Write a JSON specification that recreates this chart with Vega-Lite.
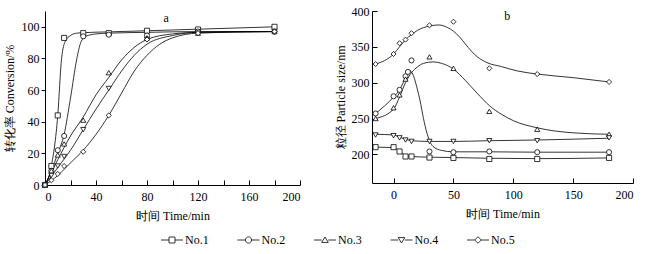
{
  "$schema": "https://vega.github.io/schema/vega-lite/v6.json",
  "padding": {"left": 3, "top": 5, "right": 5, "bottom": 5},
  "background": "white",
  "config": {
    "view": {"stroke": null},
    "font": "Liberation Serif",
    "axis": {
      "grid": false,
      "domainColor": "black",
      "tickColor": "black",
      "labelColor": "black",
      "titleColor": "black",
      "labelFont": "Liberation Serif",
      "labelFontSize": 12,
      "labelOverlap": false,
      "titleFont": "Liberation Serif",
      "titleFontSize": 12,
      "titleFontWeight": "normal",
      "domainWidth": 1,
      "tickWidth": 1
    }
  },
  "datasets": {
    "a_pts": [
      {"series": "No.1", "t": 0, "v": 0}, {"series": "No.1", "t": 5, "v": 12}, {"series": "No.1", "t": 10, "v": 44}, {"series": "No.1", "t": 15, "v": 93}, {"series": "No.1", "t": 30, "v": 96}, {"series": "No.1", "t": 50, "v": 96}, {"series": "No.1", "t": 80, "v": 97.5}, {"series": "No.1", "t": 120, "v": 98.3}, {"series": "No.1", "t": 180, "v": 100},
      {"series": "No.2", "t": 0, "v": 0}, {"series": "No.2", "t": 5, "v": 9}, {"series": "No.2", "t": 10, "v": 22}, {"series": "No.2", "t": 15, "v": 31}, {"series": "No.2", "t": 30, "v": 94}, {"series": "No.2", "t": 50, "v": 95}, {"series": "No.2", "t": 80, "v": 94.5}, {"series": "No.2", "t": 120, "v": 97}, {"series": "No.2", "t": 180, "v": 97},
      {"series": "No.3", "t": 0, "v": 0}, {"series": "No.3", "t": 5, "v": 9}, {"series": "No.3", "t": 10, "v": 19}, {"series": "No.3", "t": 15, "v": 26}, {"series": "No.3", "t": 30, "v": 41}, {"series": "No.3", "t": 50, "v": 71}, {"series": "No.3", "t": 80, "v": 93}, {"series": "No.3", "t": 120, "v": 96}, {"series": "No.3", "t": 180, "v": 97},
      {"series": "No.4", "t": 0, "v": 0}, {"series": "No.4", "t": 5, "v": 6}, {"series": "No.4", "t": 10, "v": 12}, {"series": "No.4", "t": 15, "v": 18}, {"series": "No.4", "t": 30, "v": 35}, {"series": "No.4", "t": 50, "v": 61}, {"series": "No.4", "t": 80, "v": 92}, {"series": "No.4", "t": 120, "v": 96}, {"series": "No.4", "t": 180, "v": 97},
      {"series": "No.5", "t": 0, "v": 0}, {"series": "No.5", "t": 5, "v": 3}, {"series": "No.5", "t": 10, "v": 7}, {"series": "No.5", "t": 15, "v": 12}, {"series": "No.5", "t": 30, "v": 21}, {"series": "No.5", "t": 50, "v": 44}, {"series": "No.5", "t": 80, "v": 92}, {"series": "No.5", "t": 120, "v": 96}, {"series": "No.5", "t": 180, "v": 97}
    ],
    "a_fit": [
      {"series": "No.1", "t": 0, "v": 0}, {"series": "No.1", "t": 5, "v": 12}, {"series": "No.1", "t": 10, "v": 44}, {"series": "No.1", "t": 13, "v": 80}, {"series": "No.1", "t": 16, "v": 91}, {"series": "No.1", "t": 20, "v": 94.5}, {"series": "No.1", "t": 25, "v": 96}, {"series": "No.1", "t": 30, "v": 96.3}, {"series": "No.1", "t": 50, "v": 96.8}, {"series": "No.1", "t": 80, "v": 97.5}, {"series": "No.1", "t": 120, "v": 98.5}, {"series": "No.1", "t": 180, "v": 100},
      {"series": "No.2", "t": 0, "v": 0}, {"series": "No.2", "t": 5, "v": 9}, {"series": "No.2", "t": 10, "v": 20}, {"series": "No.2", "t": 15, "v": 32}, {"series": "No.2", "t": 20, "v": 55}, {"series": "No.2", "t": 25, "v": 80}, {"series": "No.2", "t": 28, "v": 90}, {"series": "No.2", "t": 32, "v": 94}, {"series": "No.2", "t": 40, "v": 95.5}, {"series": "No.2", "t": 50, "v": 96}, {"series": "No.2", "t": 80, "v": 96.5}, {"series": "No.2", "t": 120, "v": 97}, {"series": "No.2", "t": 180, "v": 97},
      {"series": "No.3", "t": 0, "v": 0}, {"series": "No.3", "t": 10, "v": 16}, {"series": "No.3", "t": 20, "v": 31}, {"series": "No.3", "t": 30, "v": 43}, {"series": "No.3", "t": 40, "v": 57}, {"series": "No.3", "t": 50, "v": 68}, {"series": "No.3", "t": 60, "v": 79}, {"series": "No.3", "t": 70, "v": 87}, {"series": "No.3", "t": 80, "v": 92}, {"series": "No.3", "t": 100, "v": 95.5}, {"series": "No.3", "t": 120, "v": 96.5}, {"series": "No.3", "t": 180, "v": 97},
      {"series": "No.4", "t": 0, "v": 0}, {"series": "No.4", "t": 10, "v": 11}, {"series": "No.4", "t": 20, "v": 22}, {"series": "No.4", "t": 30, "v": 35}, {"series": "No.4", "t": 40, "v": 48}, {"series": "No.4", "t": 50, "v": 60}, {"series": "No.4", "t": 60, "v": 72}, {"series": "No.4", "t": 70, "v": 82}, {"series": "No.4", "t": 80, "v": 89}, {"series": "No.4", "t": 100, "v": 94.5}, {"series": "No.4", "t": 120, "v": 96.5}, {"series": "No.4", "t": 180, "v": 97},
      {"series": "No.5", "t": 0, "v": 0}, {"series": "No.5", "t": 10, "v": 6}, {"series": "No.5", "t": 20, "v": 14}, {"series": "No.5", "t": 30, "v": 22}, {"series": "No.5", "t": 40, "v": 32}, {"series": "No.5", "t": 50, "v": 44}, {"series": "No.5", "t": 60, "v": 58}, {"series": "No.5", "t": 70, "v": 72}, {"series": "No.5", "t": 80, "v": 82}, {"series": "No.5", "t": 90, "v": 89}, {"series": "No.5", "t": 100, "v": 93}, {"series": "No.5", "t": 120, "v": 96}, {"series": "No.5", "t": 180, "v": 97}
    ],
    "b_pts": [
      {"series": "No.1", "t": -15, "v": 210}, {"series": "No.1", "t": 0, "v": 210}, {"series": "No.1", "t": 5, "v": 204}, {"series": "No.1", "t": 10, "v": 197}, {"series": "No.1", "t": 15, "v": 197}, {"series": "No.1", "t": 30, "v": 195.5}, {"series": "No.1", "t": 50, "v": 195}, {"series": "No.1", "t": 80, "v": 193.5}, {"series": "No.1", "t": 120, "v": 193.5}, {"series": "No.1", "t": 180, "v": 195},
      {"series": "No.2", "t": -15, "v": 257}, {"series": "No.2", "t": 0, "v": 281}, {"series": "No.2", "t": 5, "v": 290}, {"series": "No.2", "t": 10, "v": 309}, {"series": "No.2", "t": 12, "v": 315}, {"series": "No.2", "t": 15, "v": 331}, {"series": "No.2", "t": 30, "v": 204}, {"series": "No.2", "t": 50, "v": 203}, {"series": "No.2", "t": 80, "v": 204}, {"series": "No.2", "t": 120, "v": 203}, {"series": "No.2", "t": 180, "v": 203},
      {"series": "No.3", "t": -15, "v": 250}, {"series": "No.3", "t": 0, "v": 265}, {"series": "No.3", "t": 5, "v": 283}, {"series": "No.3", "t": 10, "v": 305}, {"series": "No.3", "t": 30, "v": 336}, {"series": "No.3", "t": 50, "v": 320}, {"series": "No.3", "t": 80, "v": 260}, {"series": "No.3", "t": 120, "v": 235}, {"series": "No.3", "t": 180, "v": 228},
      {"series": "No.4", "t": -15, "v": 227}, {"series": "No.4", "t": 0, "v": 226}, {"series": "No.4", "t": 5, "v": 223}, {"series": "No.4", "t": 10, "v": 220}, {"series": "No.4", "t": 15, "v": 218}, {"series": "No.4", "t": 30, "v": 218}, {"series": "No.4", "t": 50, "v": 218}, {"series": "No.4", "t": 80, "v": 219}, {"series": "No.4", "t": 120, "v": 219}, {"series": "No.4", "t": 180, "v": 223},
      {"series": "No.5", "t": -15, "v": 326}, {"series": "No.5", "t": 0, "v": 340}, {"series": "No.5", "t": 5, "v": 355}, {"series": "No.5", "t": 10, "v": 360}, {"series": "No.5", "t": 15, "v": 369}, {"series": "No.5", "t": 30, "v": 380}, {"series": "No.5", "t": 50, "v": 385}, {"series": "No.5", "t": 80, "v": 320}, {"series": "No.5", "t": 120, "v": 312}, {"series": "No.5", "t": 180, "v": 301}
    ],
    "b_fit": [
      {"series": "No.1", "t": -15, "v": 210}, {"series": "No.1", "t": 0, "v": 209.5}, {"series": "No.1", "t": 5, "v": 204}, {"series": "No.1", "t": 10, "v": 198.5}, {"series": "No.1", "t": 15, "v": 197}, {"series": "No.1", "t": 30, "v": 196}, {"series": "No.1", "t": 50, "v": 195.5}, {"series": "No.1", "t": 80, "v": 194.5}, {"series": "No.1", "t": 120, "v": 194}, {"series": "No.1", "t": 180, "v": 195},
      {"series": "No.2", "t": -15, "v": 257}, {"series": "No.2", "t": 0, "v": 280}, {"series": "No.2", "t": 5, "v": 290}, {"series": "No.2", "t": 10, "v": 307}, {"series": "No.2", "t": 13, "v": 317}, {"series": "No.2", "t": 16, "v": 312}, {"series": "No.2", "t": 20, "v": 290}, {"series": "No.2", "t": 22, "v": 276}, {"series": "No.2", "t": 25, "v": 250}, {"series": "No.2", "t": 28, "v": 229}, {"series": "No.2", "t": 33, "v": 211}, {"series": "No.2", "t": 40, "v": 205.5}, {"series": "No.2", "t": 50, "v": 203.5}, {"series": "No.2", "t": 80, "v": 203.5}, {"series": "No.2", "t": 120, "v": 203}, {"series": "No.2", "t": 180, "v": 203},
      {"series": "No.3", "t": -15, "v": 250}, {"series": "No.3", "t": 0, "v": 263}, {"series": "No.3", "t": 5, "v": 280}, {"series": "No.3", "t": 10, "v": 300}, {"series": "No.3", "t": 15, "v": 314}, {"series": "No.3", "t": 20, "v": 322}, {"series": "No.3", "t": 25, "v": 327}, {"series": "No.3", "t": 33, "v": 329}, {"series": "No.3", "t": 40, "v": 327}, {"series": "No.3", "t": 50, "v": 319}, {"series": "No.3", "t": 60, "v": 303}, {"series": "No.3", "t": 70, "v": 285}, {"series": "No.3", "t": 80, "v": 268}, {"series": "No.3", "t": 90, "v": 256}, {"series": "No.3", "t": 100, "v": 247}, {"series": "No.3", "t": 120, "v": 237}, {"series": "No.3", "t": 150, "v": 230}, {"series": "No.3", "t": 180, "v": 228},
      {"series": "No.4", "t": -15, "v": 228}, {"series": "No.4", "t": 0, "v": 227}, {"series": "No.4", "t": 5, "v": 224}, {"series": "No.4", "t": 10, "v": 221}, {"series": "No.4", "t": 15, "v": 219}, {"series": "No.4", "t": 30, "v": 218}, {"series": "No.4", "t": 50, "v": 218}, {"series": "No.4", "t": 80, "v": 219}, {"series": "No.4", "t": 120, "v": 220}, {"series": "No.4", "t": 180, "v": 222.5},
      {"series": "No.5", "t": -15, "v": 326}, {"series": "No.5", "t": 0, "v": 340}, {"series": "No.5", "t": 5, "v": 350}, {"series": "No.5", "t": 10, "v": 360}, {"series": "No.5", "t": 15, "v": 367}, {"series": "No.5", "t": 20, "v": 373}, {"series": "No.5", "t": 30, "v": 379}, {"series": "No.5", "t": 38, "v": 380.5}, {"series": "No.5", "t": 45, "v": 377}, {"series": "No.5", "t": 50, "v": 372}, {"series": "No.5", "t": 55, "v": 364}, {"series": "No.5", "t": 60, "v": 354}, {"series": "No.5", "t": 65, "v": 344}, {"series": "No.5", "t": 70, "v": 336}, {"series": "No.5", "t": 78, "v": 328}, {"series": "No.5", "t": 90, "v": 322.5}, {"series": "No.5", "t": 103, "v": 316.5}, {"series": "No.5", "t": 120, "v": 312}, {"series": "No.5", "t": 150, "v": 307}, {"series": "No.5", "t": 180, "v": 301}
    ],
    "legend_items": [
      {"series": "No.1"}, {"series": "No.2"}, {"series": "No.3"}, {"series": "No.4"}, {"series": "No.5"}
    ]
  },
  "resolve": {"scale": {"shape": "independent"}},
  "spacing": 11,
  "vconcat": [
    {
      "spacing": 33,
      "hconcat": [
        {
          "width": 255,
          "height": 174,
          "layer": [
            {
              "data": {"name": "a_fit"},
              "mark": {"type": "line", "interpolate": "monotone", "color": "black", "strokeWidth": 0.8},
              "encoding": {
                "x": {"field": "t", "type": "quantitative", "scale": {"domain": [0, 200], "nice": false},
                  "axis": {"title": "时间 Time/min", "values": [0, 20, 40, 60, 80, 100, 120, 140, 160, 180, 200], "tickCount": 50,
                    "labelExpr": "datum.value % 40 === 0 ? datum.label : ''",
                    "tickSize": -5, "labelPadding": 11, "titlePadding": 8}},
                "y": {"field": "v", "type": "quantitative", "scale": {"domain": [0, 110], "nice": false},
                  "axis": {"title": "转化率 Conversion/%", "values": [0, 20, 40, 60, 80, 100], "tickCount": 50, "labelOverlap": false, "tickSize": 4, "labelPadding": 2, "titlePadding": 5}},
                "detail": {"field": "series"}
              }
            },
            {
              "data": {"name": "a_pts"},
              "mark": {"type": "point", "filled": true, "fill": "white", "stroke": "black", "strokeWidth": 0.8, "size": 26, "opacity": 1},
              "encoding": {
                "x": {"field": "t", "type": "quantitative"},
                "y": {"field": "v", "type": "quantitative"},
                "shape": {"field": "series", "type": "nominal",
                  "scale": {"domain": ["No.1", "No.2", "No.3", "No.4", "No.5"], "range": ["square", "circle", "triangle-up", "triangle-down", "diamond"]},
                  "legend": null}
              }
            },
            {
              "data": {"values": [{"label": "a", "t": 95, "v": 105.7}]},
              "mark": {"type": "text", "font": "Liberation Serif", "fontSize": 12, "color": "black"},
              "encoding": {
                "x": {"field": "t", "type": "quantitative"},
                "y": {"field": "v", "type": "quantitative"},
                "text": {"field": "label"}
              }
            }
          ]
        },
        {
          "width": 261,
          "height": 172,
          "layer": [
            {
              "data": {"name": "b_fit"},
              "mark": {"type": "line", "interpolate": "monotone", "color": "black", "strokeWidth": 0.8},
              "encoding": {
                "x": {"field": "t", "type": "quantitative", "scale": {"domain": [-18, 200], "nice": false},
                  "axis": {"title": "时间 Time/min", "values": [0, 50, 100, 150, 200], "tickCount": 50, "tickSize": -5, "labelPadding": 11, "titlePadding": 8}},
                "y": {"field": "v", "type": "quantitative", "scale": {"domain": [160, 400], "nice": false, "zero": false},
                  "axis": {"title": "粒径 Particle size/nm", "values": [200, 250, 300, 350, 400], "tickCount": 50, "tickSize": -5, "labelPadding": 8, "titlePadding": 4}},
                "detail": {"field": "series"}
              }
            },
            {
              "data": {"name": "b_pts"},
              "mark": {"type": "point", "filled": true, "fill": "white", "stroke": "black", "strokeWidth": 0.8, "size": 26, "opacity": 1},
              "encoding": {
                "x": {"field": "t", "type": "quantitative"},
                "y": {"field": "v", "type": "quantitative"},
                "shape": {"field": "series", "type": "nominal", "legend": null}
              }
            },
            {
              "data": {"values": [{"label": "b", "t": 95, "v": 393}]},
              "mark": {"type": "text", "font": "Liberation Serif", "fontSize": 12, "color": "black"},
              "encoding": {
                "x": {"field": "t", "type": "quantitative"},
                "y": {"field": "v", "type": "quantitative"},
                "text": {"field": "label"}
              }
            }
          ]
        }
      ]
    },
    {
      "width": 480,
      "height": 16,
      "data": {"name": "legend_items"},
      "encoding": {
        "x": {"field": "series", "type": "nominal", "scale": {"type": "point", "domain": ["No.1", "No.2", "No.3", "No.4", "No.5"], "range": [127, 433], "padding": 0}, "axis": null}
      },
      "layer": [
        {
          "mark": {"type": "point", "filled": true, "fill": "white", "stroke": "black", "strokeWidth": 0.8, "size": 484, "opacity": 1},
          "encoding": {
            "shape": {"field": "series", "type": "nominal", "legend": null,
              "scale": {"domain": ["No.1", "No.2", "No.3", "No.4", "No.5"],
                "range": [
                  "M-1,0H-0.27M0.27,0H1M-0.27,-0.27H0.27V0.27H-0.27Z",
                  "M-1,0H-0.28M0.28,0H1M-0.28,0A0.28,0.28,0,1,1,0.28,0A0.28,0.28,0,1,1,-0.28,0Z",
                  "M-1,0H-0.3M0.3,0H1M0,-0.27L0.3,0.22H-0.3Z",
                  "M-1,0H-0.3M0.3,0H1M0,0.27L0.3,-0.22H-0.3Z",
                  "M-1,0H-0.3M0.3,0H1M0,-0.3L0.3,0L0,0.3L-0.3,0Z"
                ]}}
          }
        },
        {
          "mark": {"type": "text", "align": "left", "baseline": "middle", "dx": 13, "font": "Liberation Serif", "fontSize": 12, "color": "black"},
          "encoding": {"text": {"field": "series"}}
        }
      ]
    }
  ]
}
